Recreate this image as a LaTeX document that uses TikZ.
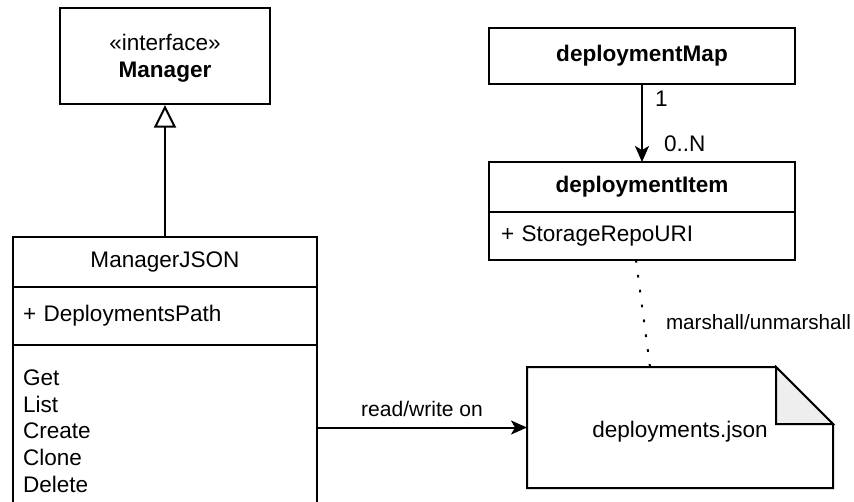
\documentclass[tikz,border=0pt]{standalone}
\usepackage{fontspec}
\setmainfont{Liberation Sans}
\usepackage{tikz}
\usetikzlibrary{positioning}
\usetikzlibrary{arrows.meta}

\tikzset{
	umlbox/.style={draw, line width=1.5pt, outer sep=0pt, inner sep=0pt, align=center},
	umlpart/.style={draw, line width=1.5pt, outer sep=0pt, inner xsep=7.5pt, inner ysep=0pt, align=left, text width=213pt},
	assoc/.style={line width=1.5pt, -{Stealth[length=12pt, width=10.5pt, inset=3pt]}},
	realize/.style={line width=1.5pt, -{Triangle[length=17pt, width=16.5pt, fill=white]}},
	marshal/.style={line width=1.5pt, dash pattern=on 2pt off 9.25pt}
}

\begin{document}
\begin{tikzpicture}[x=0.75pt, y=-0.75pt, font=\fontsize{16.9}{20}\selectfont]
		\useasboundingbox (0,0) rectangle (854,501);
		\clip (0,0) rectangle (854,501);
		
		% Interface and its implementation
		\node[umlbox, minimum width=157.5pt, minimum height=72pt, text depth=0pt] (manager) at (165,56) {«interface»\\\textbf{Manager}};
		\node[umlbox, minimum width=228pt, minimum height=37.5pt] (mjhead) at (165,262) {ManagerJSON};
		\node[umlpart, minimum height=43.5pt, below=0pt of mjhead] (mjattr) {+ DeploymentsPath};
		\node[umlpart, minimum height=129pt, below=0pt of mjattr] (mjops) {Get\\List\\Create\\Clone\\Delete};
		\draw[realize] (mjhead.north) -- ([yshift=-0.75pt]manager.south);
		
		% Map holds the items
		\node[umlbox, minimum width=229.5pt, minimum height=42pt] (map) at (642,56) {\textbf{deploymentMap}};
		\node[umlbox, minimum width=229.5pt, minimum height=37.5pt] (itemhead) at (642,187) {\textbf{deploymentItem}};
		\node[umlpart, text width=211.5pt, inner xsep=9pt, minimum height=36pt, below=0pt of itemhead] (itemattr) {+ StorageRepoURI};
		\draw[assoc] (map.south) -- (itemhead.north)
			node[pos=0.19, right=9pt, inner sep=0pt] {1}
			node[pos=0.76, right=15.75pt, inner sep=0pt] {0..N};
		
		% The json file
		\node[minimum width=229.5pt, minimum height=90.75pt, outer sep=0pt, text height=14.25pt, text depth=0pt] (file) at (680,427.5) {deployments.json};
		\draw[line width=1.5pt] (file.south west) -- (file.north west) -- ([xshift=-42.75pt]file.north east)
			-- ([yshift=-42.75pt]file.north east) -- (file.south east) -- cycle;
		\draw[line width=1.5pt, fill=gray!13] ([xshift=-42.75pt]file.north east) -- ([xshift=-42.75pt,yshift=-42.75pt]file.north east)
			-- ([yshift=-42.75pt]file.north east) -- cycle;
		
		\draw[assoc] (file.west -| mjops.east) -- (file.west)
			node[midway, anchor=base, yshift=8.25pt, font=\fontsize{15.8}{19}\selectfont] {read/write on};
		\draw[marshal] ([xshift=-4.5pt]itemattr.south) -- ([xshift=-22.5pt]file.north)
			node[midway, right=16.5pt, yshift=-6.4pt, inner sep=0pt, font=\fontsize{15.5}{18}\selectfont] {marshall/unmarshall};
	\end{tikzpicture}
\end{document}
